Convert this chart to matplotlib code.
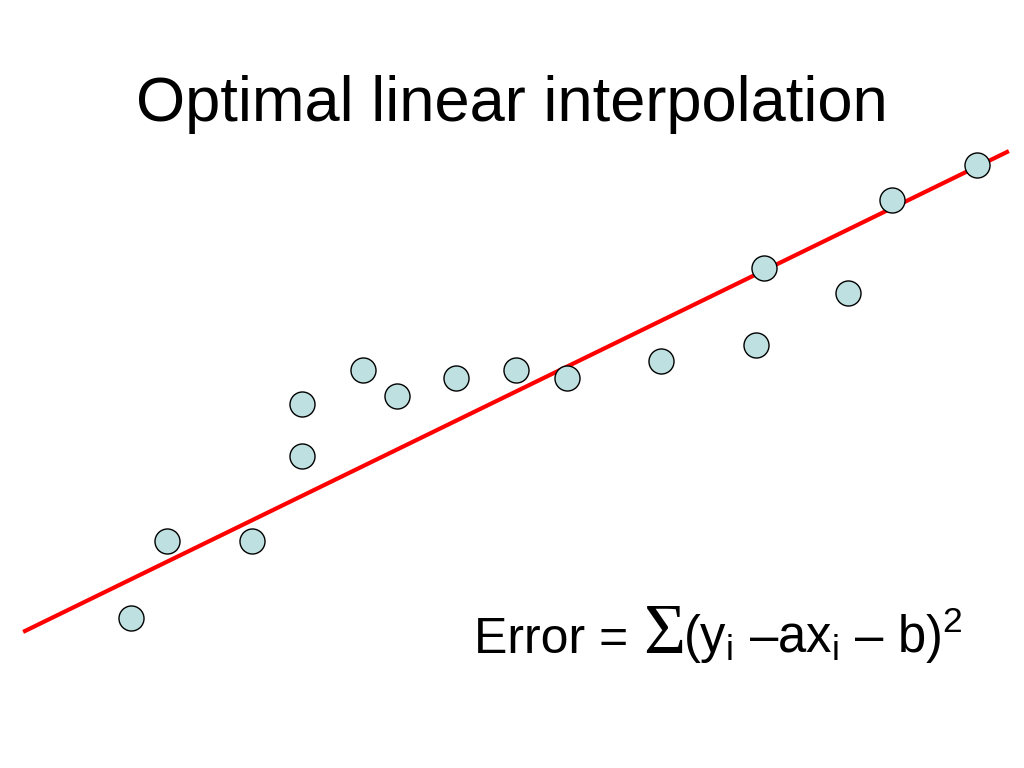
import numpy as np
import matplotlib.pyplot as plt

plt.rcParams['font.family'] = ['Liberation Sans', 'DejaVu Sans']
plt.rcParams['mathtext.fontset'] = 'custom'
plt.rcParams['mathtext.rm'] = 'Liberation Sans'
plt.rcParams['mathtext.it'] = 'Liberation Sans:italic'

# sample points (slide pixel coordinates, y measured downward)
xs = [131, 167, 252, 302, 302, 363, 397, 456, 516, 567, 661, 756, 764, 848, 892, 977]
ys = [618, 541, 541, 404, 456, 370, 396, 378, 370, 378, 361, 345, 268, 293, 200, 165]

# fitted line end points
line_x = [25, 1007]
line_y = [631, 152]


def main():
    fig = plt.figure(figsize=(10.24, 7.68), dpi=100)
    ax = fig.add_axes([0, 0, 1, 1])
    ax.set_xlim(0, 1024)
    ax.set_ylim(768, 0)
    ax.axis('off')

    ax.plot(line_x, line_y, color='#ff0000', linewidth=3, zorder=1)
    ax.scatter(xs, ys, s=25 ** 2 * 0.52, color='#bfe0e0', edgecolor='black',
               linewidth=1, zorder=2)

    ax.text(512, 121, 'Optimal linear interpolation', fontsize=45.5,
            ha='center', va='baseline')

    # error formula, built from three pieces
    ax.text(474, 653, 'Error =', fontsize=36, ha='left', va='baseline')
    ax.text(643, 653, 'Σ', fontsize=52, ha='left', va='baseline',
            family='Liberation Serif')
    ax.text(683, 653, r'(y$_\mathrm{i}$ –ax$_\mathrm{i}$ – b)$^2$', fontsize=36.5,
            ha='left', va='baseline')

    fig.savefig('out.png', dpi=100)


if __name__ == "__main__":
    main()
